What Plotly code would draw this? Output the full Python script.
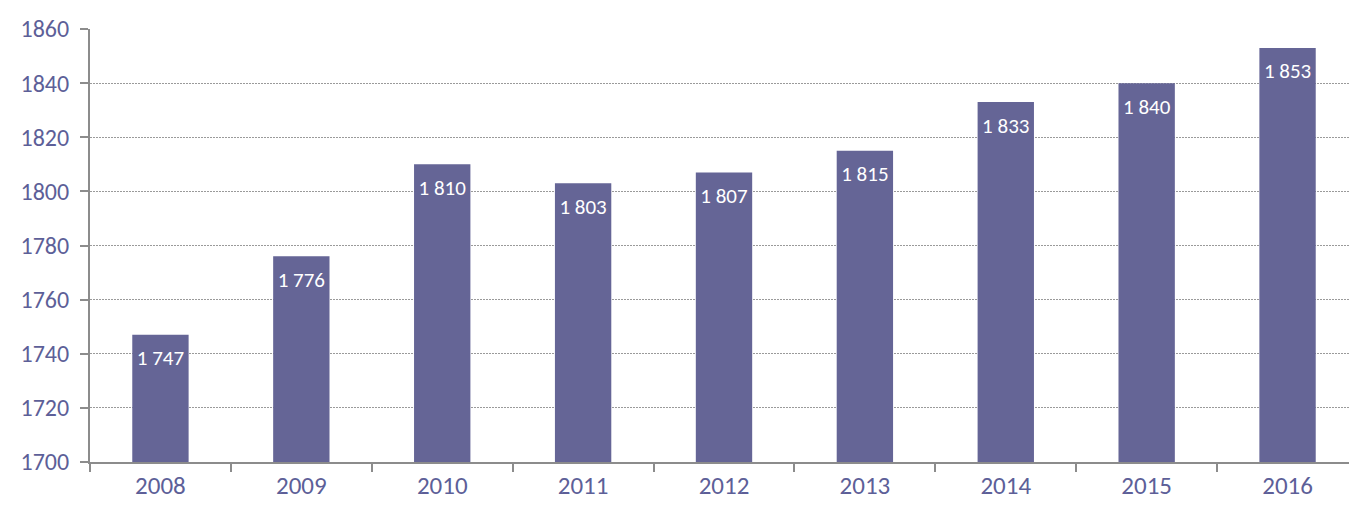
import plotly.graph_objects as go

years = ["2008", "2009", "2010", "2011", "2012", "2013", "2014", "2015", "2016"]
values = [1747, 1776, 1810, 1803, 1807, 1815, 1833, 1840, 1853]
y_ticks = [1700, 1720, 1740, 1760, 1780, 1800, 1820, 1840, 1860]
labels = [f"{v:,}".replace(",", " ") for v in values]

bar_color = "#656596"
text_color = "#5d5f98"
axis_color = "#8c8c8c"
font_family = "Carlito, Calibri, Lato, 'Liberation Sans', sans-serif"

fig = go.Figure()
fig.add_trace(go.Bar(
    x=years, y=values, marker=dict(color=bar_color, line=dict(width=0)),
    hoverinfo="x+y",
))
fig.add_trace(go.Scatter(
    x=years, y=values, mode="markers+text", text=labels,
    textposition="bottom center",
    marker=dict(size=22, color="rgba(0,0,0,0)"),
    textfont=dict(color="white", size=21, family=font_family),
    hoverinfo="skip",
))

fig.update_layout(
    width=1358, height=506,
    margin=dict(l=90, r=0, t=29, b=44, autoexpand=False),
    plot_bgcolor="white", paper_bgcolor="white",
    bargap=0.6, showlegend=False,
    font=dict(family=font_family, color=text_color, size=24),
)
fig.update_xaxes(
    type="category", range=[-0.5, len(years) - 0.5],
    showline=True, linecolor=axis_color, linewidth=2,
    ticks="outside", tickson="boundaries", ticklen=8, tickcolor=axis_color, tickwidth=2,
    tickfont=dict(size=25, color=text_color), showgrid=False,
)
fig.update_yaxes(
    range=[1700, 1860], tickvals=y_ticks, showline=True, linecolor=axis_color, linewidth=2,
    ticks="outside", ticklen=8, tickcolor=axis_color, tickwidth=2,
    showgrid=True, gridcolor="#9a9a9a", griddash="2px,1px", gridwidth=1,
    tickfont=dict(size=24, color=text_color), zeroline=False, ticklabelstandoff=6,
)

fig.write_html(
    "out.html",
    config={"displayModeBar": False},
    post_script="document.body.style.margin='0';document.body.style.overflow='hidden';"
                "document.documentElement.style.overflow='hidden';",
)
